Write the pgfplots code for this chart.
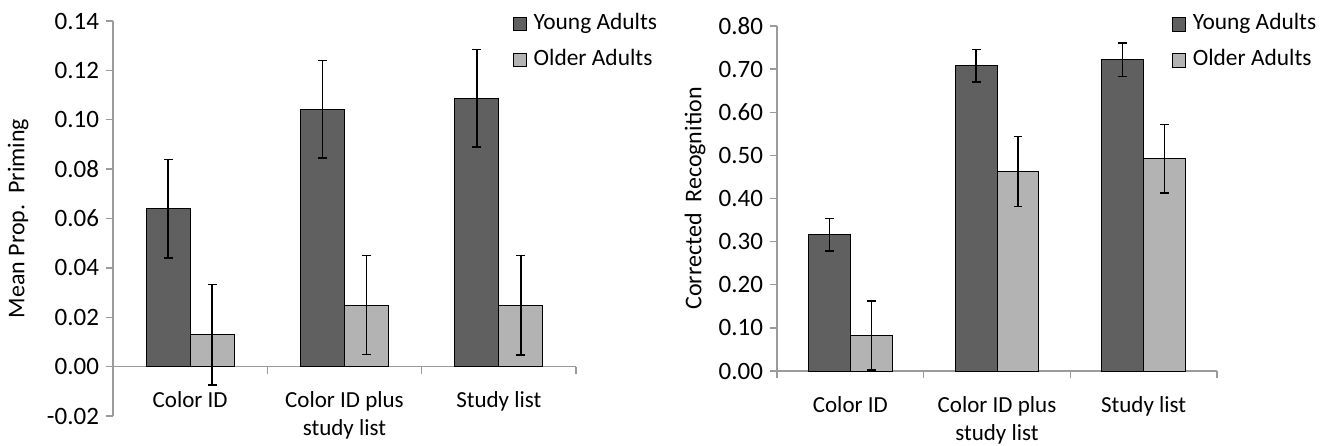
\documentclass[border=0pt]{standalone}
\usepackage{fontspec}
\setmainfont{Carlito}
\usepackage{pgfplots}
\pgfplotsset{compat=1.18}
\definecolor{young}{RGB}{96,96,96}
\definecolor{older}{RGB}{179,179,179}
\definecolor{axgray}{RGB}{155,155,155}
\newcommand{\lblfont}{\fontsize{11.7}{14}\selectfont}
\pgfplotsset{
  mybar/.style={
    scale only axis,
    anchor=south west,
    xmin=-0.5, xmax=2.5,
    axis y line*=left,
    axis line style={axgray, line width=0.7pt},
    tick align=outside,
    major tick length=3.5pt,
    tick style={axgray, line width=0.7pt},
    xtick={-0.5,0.5,1.5,2.5},
    xticklabels={,,,},
    extra x ticks={0,1,2},
    extra x tick labels={Color ID,{Color ID plus\\study list},Study list},
    extra x tick style={major tick length=0pt},
    xticklabel style={align=center, yshift=-9pt, font=\fontsize{11.5}{14}\selectfont},
    yticklabel style={font=\fontsize{12.5}{14}\selectfont, /pgf/number format/.cd, fixed, fixed zerofill, precision=2, assume math mode=true},
    every axis y label/.style={rotate=90, anchor=center, font=\fontsize{12}{14}\selectfont},
    legend style={draw=none, fill=none, inner sep=0pt, row sep=5.5pt, font=\lblfont,
      cells={anchor=west}, nodes={inner sep=1.5pt, text height=7.5pt, text depth=2pt},
      /tikz/every odd column/.append style={column sep=2pt}},
    legend image code/.code={\draw[#1, draw=black, line width=0.5pt] (0pt,-3.3pt) rectangle (6.6pt,3.3pt);},
  },
  ybarY/.style={ybar, bar width=0.285, bar shift=0pt, fill=young, draw=black, line width=0.5pt,
    error bars/.cd, y dir=both, y explicit,
    error bar style={black, line width=0.7pt},
    error mark options={black, line width=0.7pt, mark size=2.2pt, rotate=90}},
  ybarO/.style={ybar, bar width=0.285, bar shift=0pt, fill=older, draw=black, line width=0.5pt,
    error bars/.cd, y dir=both, y explicit,
    error bar style={black, line width=0.7pt},
    error mark options={black, line width=0.7pt, mark size=2.2pt, rotate=90}},
}
\begin{document}
\begin{tikzpicture}
\path[use as bounding box] (0,0) rectangle (666pt,222.5pt);
% Left panel
\begin{axis}[mybar,
  at={(56.5pt,14.5pt)}, width=231.5pt, height=197.5pt,
  ymin=-0.02, ymax=0.14,
  ytick={-0.02,0,0.02,0.04,0.06,0.08,0.10,0.12,0.14},
  axis x line*=middle,
  ylabel={Mean Prop.\ \ Priming},
  ylabel style={at={(axis description cs:-0.205,0.5)}},
  legend style={at={(0.862,1.026)}, anchor=north west},
]
\addplot[ybarY] coordinates {
  (-0.1425,0.0640) +- (0,0.0200)
  (0.8575,0.1043) +- (0,0.0198)
  (1.8575,0.1087) +- (0,0.0198)
};
\addlegendentry{Young Adults}
\addplot[ybarO] coordinates {
  (0.1425,0.0129) +- (0,0.0203)
  (1.1425,0.0249) +- (0,0.0200)
  (2.1425,0.0249) +- (0,0.0202)
};
\addlegendentry{Older Adults}
\end{axis}
% Right panel
\begin{axis}[mybar,
  at={(388.5pt,37pt)}, width=220pt, height=172.5pt,
  ymin=0, ymax=0.8,
  ytick={0,0.1,0.2,0.3,0.4,0.5,0.6,0.7,0.8},
  axis x line*=bottom,
  ylabel={Corrected\ \ Recognition},
  ylabel style={at={(axis description cs:-0.186,0.5)}},
  legend style={at={(0.896,1.042)}, anchor=north west},
]
\addplot[ybarY] coordinates {
  (-0.1425,0.316) +- (0,0.038)
  (0.8575,0.708) +- (0,0.038)
  (1.8575,0.722) +- (0,0.039)
};
\addlegendentry{Young Adults}
\addplot[ybarO] coordinates {
  (0.1425,0.082) +- (0,0.080)
  (1.1425,0.463) +- (0,0.081)
  (2.1425,0.492) +- (0,0.079)
};
\addlegendentry{Older Adults}
\end{axis}
\end{tikzpicture}
\end{document}
